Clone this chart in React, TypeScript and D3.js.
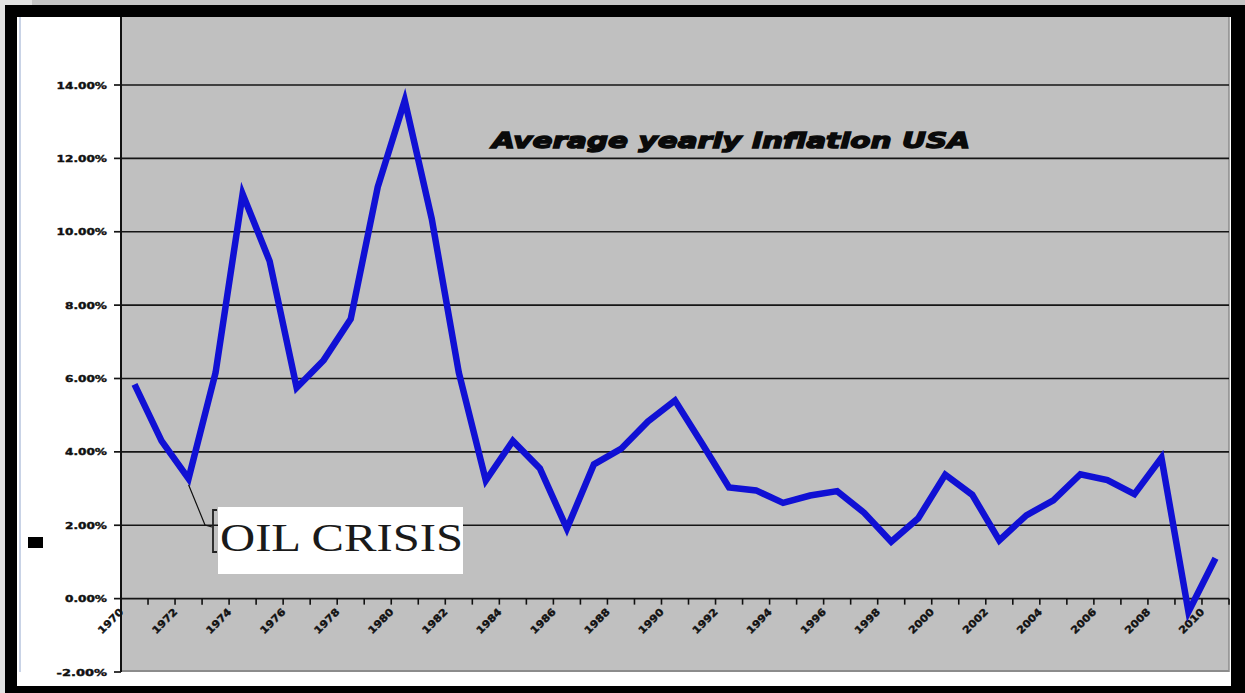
import React from "react";
import * as d3 from "d3";

const years: number[] = [
  1970, 1971, 1972, 1973, 1974, 1975, 1976, 1977, 1978, 1979,
  1980, 1981, 1982, 1983, 1984, 1985, 1986, 1987, 1988, 1989,
  1990, 1991, 1992, 1993, 1994, 1995, 1996, 1997, 1998, 1999,
  2000, 2001, 2002, 2003, 2004, 2005, 2006, 2007, 2008, 2009, 2010,
];
const inflation: number[] = [
  5.84, 4.3, 3.27, 6.16, 11.03, 9.2, 5.75, 6.5, 7.62, 11.22,
  13.58, 10.35, 6.16, 3.22, 4.3, 3.55, 1.91, 3.66, 4.08, 4.83,
  5.4, 4.23, 3.03, 2.95, 2.61, 2.81, 2.93, 2.34, 1.55, 2.19,
  3.38, 2.83, 1.59, 2.27, 2.68, 3.39, 3.23, 2.85, 3.84, -0.36, 1.1,
];
const yTicks: number[] = [-2, 0, 2, 4, 6, 8, 10, 12, 14];
const gridTicks: number[] = [0, 2, 4, 6, 8, 10, 12, 14];
const titleText = "Average yearly inflation USA";
const annotationText = "OIL CRISIS";
const annotationYear = 1972;

export default function App() {
  const W = 1245;
  const H = 693;
  const plotL = 121;
  const plotR = 1229;
  const plotT = 17;
  const plotB = 672;

  const x = d3.scaleBand<number>().domain(years).range([plotL, plotR]).padding(0);
  const bw = x.bandwidth();
  const y = d3.scaleLinear().domain([-2, 14]).range([672, 85]);
  const cx = (yr: number) => (x(yr) as number) + bw / 2;

  const line = d3
    .line<number>()
    .x((_, i) => cx(years[i]))
    .y((d) => y(d));
  const pathD = line(inflation) || "";

  const fmt = (v: number) => v.toFixed(2) + "%";

  const annIdx = years.indexOf(annotationYear);
  const ax0 = cx(annotationYear);
  const ay0 = y(inflation[annIdx]) + 6;

  const tickXs = d3.range(0, years.length + 1).map((i) => plotL + i * bw);

  return (
    <svg
      width={W}
      height={H}
      style={{ position: "absolute", left: 0, top: 0, display: "block" }}
    >
      <rect x={0} y={0} width={W} height={H} fill="#e2e2e2" />
      <rect x={32} y={0} width={W - 32} height={6} fill="#c4c4c4" />
      <rect x={5} y={5} width={W - 5} height={H - 5} fill="#000" />
      <rect x={17} y={17} width={1214} height={669} fill="#fff" />
      <line x1={20} x2={20} y1={17} y2={672} stroke="#c9d3e6" strokeWidth={2} />
      <rect x={plotL} y={plotT} width={plotR - plotL} height={plotB - plotT} fill="#c0c0c0" />
      <line x1={plotL} x2={plotR} y1={plotB - 1} y2={plotB - 1} stroke="#8c8c8c" strokeWidth={2} />
      <line x1={plotR} x2={plotR} y1={plotT} y2={plotB} stroke="#8c8c8c" strokeWidth={1.5} />

      {gridTicks.map((t) => (
        <line key={"g" + t} x1={plotL} x2={plotR} y1={y(t)} y2={y(t)} stroke="#151515" strokeWidth={1.7} />
      ))}

      {yTicks.map((t) => (
        <g key={"yt" + t}>
          <line x1={114} x2={plotL} y1={y(t)} y2={y(t)} stroke="#151515" strokeWidth={1.7} />
          <text
            x={107}
            y={y(t) + 3.5}
            textAnchor="end"
            fontFamily="'DejaVu Sans', sans-serif"
            fontWeight="bold"
            fontSize={9}
            fill="#111"
            stroke="#111"
            strokeWidth={0.4}
            textLength={fmt(t).length * 8.4}
            lengthAdjust="spacingAndGlyphs"
          >
            {fmt(t)}
          </text>
        </g>
      ))}

      <line x1={plotL} x2={plotL} y1={plotT} y2={plotB} stroke="#111" strokeWidth={2} />

      {tickXs.map((tx, i) => (
        <line key={"xt" + i} x1={tx} x2={tx} y1={y(0)} y2={y(0) + 6} stroke="#111" strokeWidth={1.6} />
      ))}

      {years.map((yr, i) =>
        i % 2 === 0 ? (
          <text
            key={"xl" + yr}
            transform={`translate(${(x(yr) as number) + 3},${y(0) + 14}) rotate(-45)`}
            textAnchor="end"
            fontFamily="'DejaVu Sans', sans-serif"
            fontWeight="bold"
            fontSize={10}
            fill="#111"
            stroke="#111"
            strokeWidth={0.4}
            textLength={31}
            lengthAdjust="spacingAndGlyphs"
          >
            {yr}
          </text>
        ) : null
      )}

      <path d={pathD} fill="none" stroke="#1010d4" strokeWidth={6.5} strokeLinejoin="miter" strokeLinecap="butt" />

      <text
        x={492}
        y={148}
        fontFamily="'DejaVu Sans', sans-serif"
        fontWeight="bold"
        fontStyle="italic"
        fontSize={22}
        fill="#0a0a0a"
        stroke="#0a0a0a"
        strokeWidth={1.4}
        textLength={478}
        lengthAdjust="spacingAndGlyphs"
      >
        {titleText}
      </text>

      <rect x={218} y={507} width={245} height={67} fill="#fff" />
      <polyline
        points={`${ax0},${ay0} ${205},${525} ${212},${527}`}
        fill="none"
        stroke="#111"
        strokeWidth={1.2}
      />
      <path d="M217,510 L213,510 L213,552 L217,552" fill="none" stroke="#222" strokeWidth={1.8} />
      <text
        x={220}
        y={551}
        fontFamily="'Liberation Serif', 'Times New Roman', serif"
        fontSize={40}
        fill="#1a1a1a"
        textLength={243}
        lengthAdjust="spacingAndGlyphs"
      >
        {annotationText}
      </text>

      <rect x={28} y={537} width={15} height={11} fill="#000" />
    </svg>
  );
}
